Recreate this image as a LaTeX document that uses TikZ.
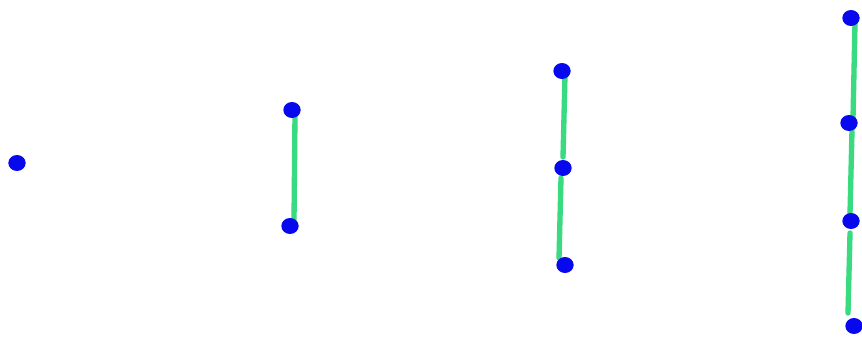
\documentclass[tikz,border=0pt]{standalone}
\usetikzlibrary{backgrounds,shapes.geometric}
\definecolor{dotblue}{RGB}{8,8,238}
\definecolor{linegreen}{RGB}{58,218,128}
\begin{document}
\begin{tikzpicture}[x=0.75pt,y=-0.75pt,
  dot/.style={ellipse,fill=dotblue,inner sep=0pt,minimum width=13pt,minimum height=12pt},
  link/.style={draw=linegreen,line width=4pt,line cap=round}]
\useasboundingbox (0,0) rectangle (862,336);
% group 1
\node[dot] (a1) at (17,163) {};
% group 2
\node[dot] (b1) at (292,110) {};
\node[dot] (b2) at (290,226) {};
% group 3
\node[dot] (c1) at (562,71) {};
\node[dot] (c2) at (563,168) {};
\node[dot] (c3) at (565,265) {};
% group 4
\node[dot] (d1) at (851,18) {};
\node[dot] (d2) at (849,123) {};
\node[dot] (d3) at (851,221) {};
\node[dot] (d4) at (854,326) {};
\begin{pgfonlayer}{background}
\fill[white] (0,0) rectangle (862,336);
\draw[link] ([shift={(3,5)}]b1.center) -- ([shift={(4,-6)}]b2.center);
\draw[link] ([shift={(3,4)}]c1.center) -- ([shift={(0,-11)}]c2.center);
\draw[link] ([shift={(-2,10)}]c2.center) -- ([shift={(-6,-7)}]c3.center);
\draw[link] ([shift={(4,5)}]d1.center) -- ([shift={(4,-5)}]d2.center);
\draw[link] ([shift={(3,7)}]d2.center) -- ([shift={(-1,-8)}]d3.center);
\draw[link] ([shift={(-1,12)}]d3.center) -- ([shift={(-6,-13)}]d4.center);
\end{pgfonlayer}
\end{tikzpicture}
\end{document}
